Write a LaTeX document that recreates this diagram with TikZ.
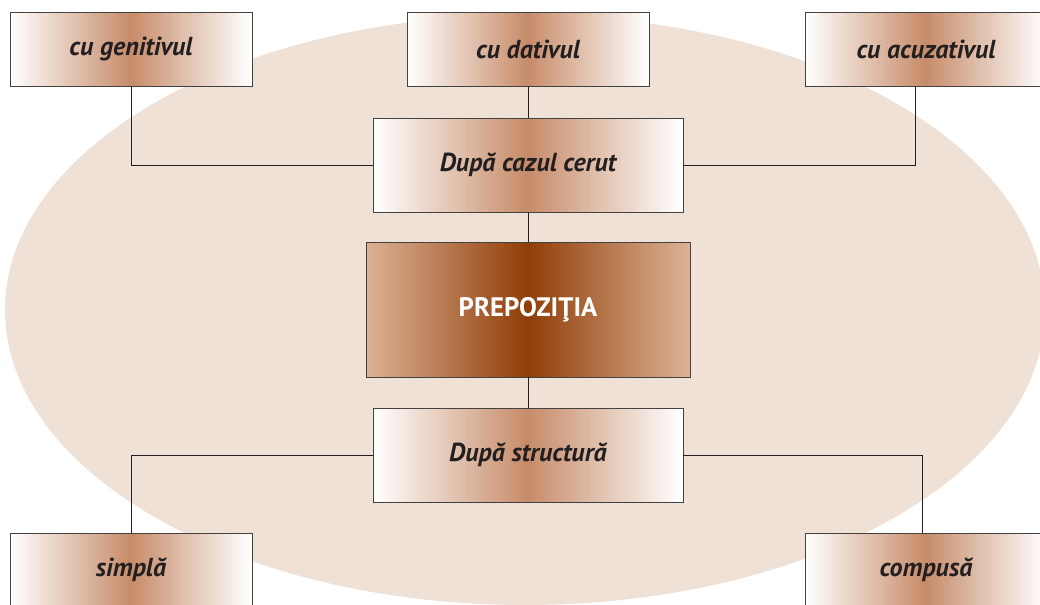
\documentclass[tikz,border=0pt]{standalone}
\usepackage{fontspec}
\setmainfont{PT Sans}
\usepackage{tikz}
\usetikzlibrary{calc}

\definecolor{oval}{HTML}{F0E1D6}
\definecolor{tan}{HTML}{C68B68}
\definecolor{rust}{HTML}{8F3D06}
\definecolor{rustedge}{HTML}{DCB296}
\definecolor{ink}{HTML}{231F20}

\begin{document}
\begin{tikzpicture}[
  x=0.025cm, y=0.025cm,
  bands/.style 2 args={path picture={
    \foreach \i in {0,...,79}{
      \pgfmathtruncatemacro\mix{100*(1-abs((\i+0.5)/40-1))}
      \pgfmathsetmacro\lo{\i/80}
      \pgfmathsetmacro\hi{(\i+1.4)/80}
      \fill[#2!\mix!#1]
        ($(path picture bounding box.south west)!\lo!(path picture bounding box.south east)$)
        rectangle
        ($(path picture bounding box.north west)!\hi!(path picture bounding box.north east)$);
    }}},
  casebox/.style={draw=ink!85, line width=0.6pt, bands={white}{tan}, text=ink,
                  inner sep=0pt, align=center,
                  font=\fontsize{18.5}{21}\selectfont\bfseries\itshape},
  small/.style={casebox, minimum width=6.05cm, minimum height=1.85cm},
  crit/.style={casebox, minimum width=7.75cm, minimum height=2.35cm},
  root/.style={draw=ink!85, line width=0.6pt, bands={rustedge}{rust}, text=white,
               inner sep=0pt, minimum width=8.1cm, minimum height=3.375cm,
               font=\fontsize{19}{22}\selectfont\bfseries},
  link/.style={draw=ink, line width=0.6pt}
]
\useasboundingbox (0,0) rectangle (1040,605);

% ---------- background ----------
\fill[oval] (525,295) ellipse [x radius=520, y radius=295];

% ---------- centre ----------
\node[root] (prep) at (528,295.5) {PREPOZIŢIA};
\node[crit] (caz)  at (528,440)   {După cazul cerut};
\node[crit] (str)  at (528,150)   {După structură};
\draw[link] (caz) -- (prep);
\draw[link] (prep) -- (str);

% ---------- after the case ----------
\node[small] (gen) at (131,556) {cu genitivul};
\node[small] (dat) at (528,556) {cu dativul};
\node[small] (acu) at (926,556) {cu acuzativul};
\draw[link] (gen.south) |- (caz.west);
\draw[link] (dat) -- (caz);
\draw[link] ([xshift=-0.275cm]acu.south) |- (caz.east);

% ---------- after the structure ----------
\node[small] (sim) at (131,35) {simplă};
\node[small] (com) at (926,35) {compusă};
\draw[link] (str.west) -| (sim.north);
\draw[link] (str.east) -| ([xshift=-0.1cm]com.north);

\end{tikzpicture}
\end{document}
